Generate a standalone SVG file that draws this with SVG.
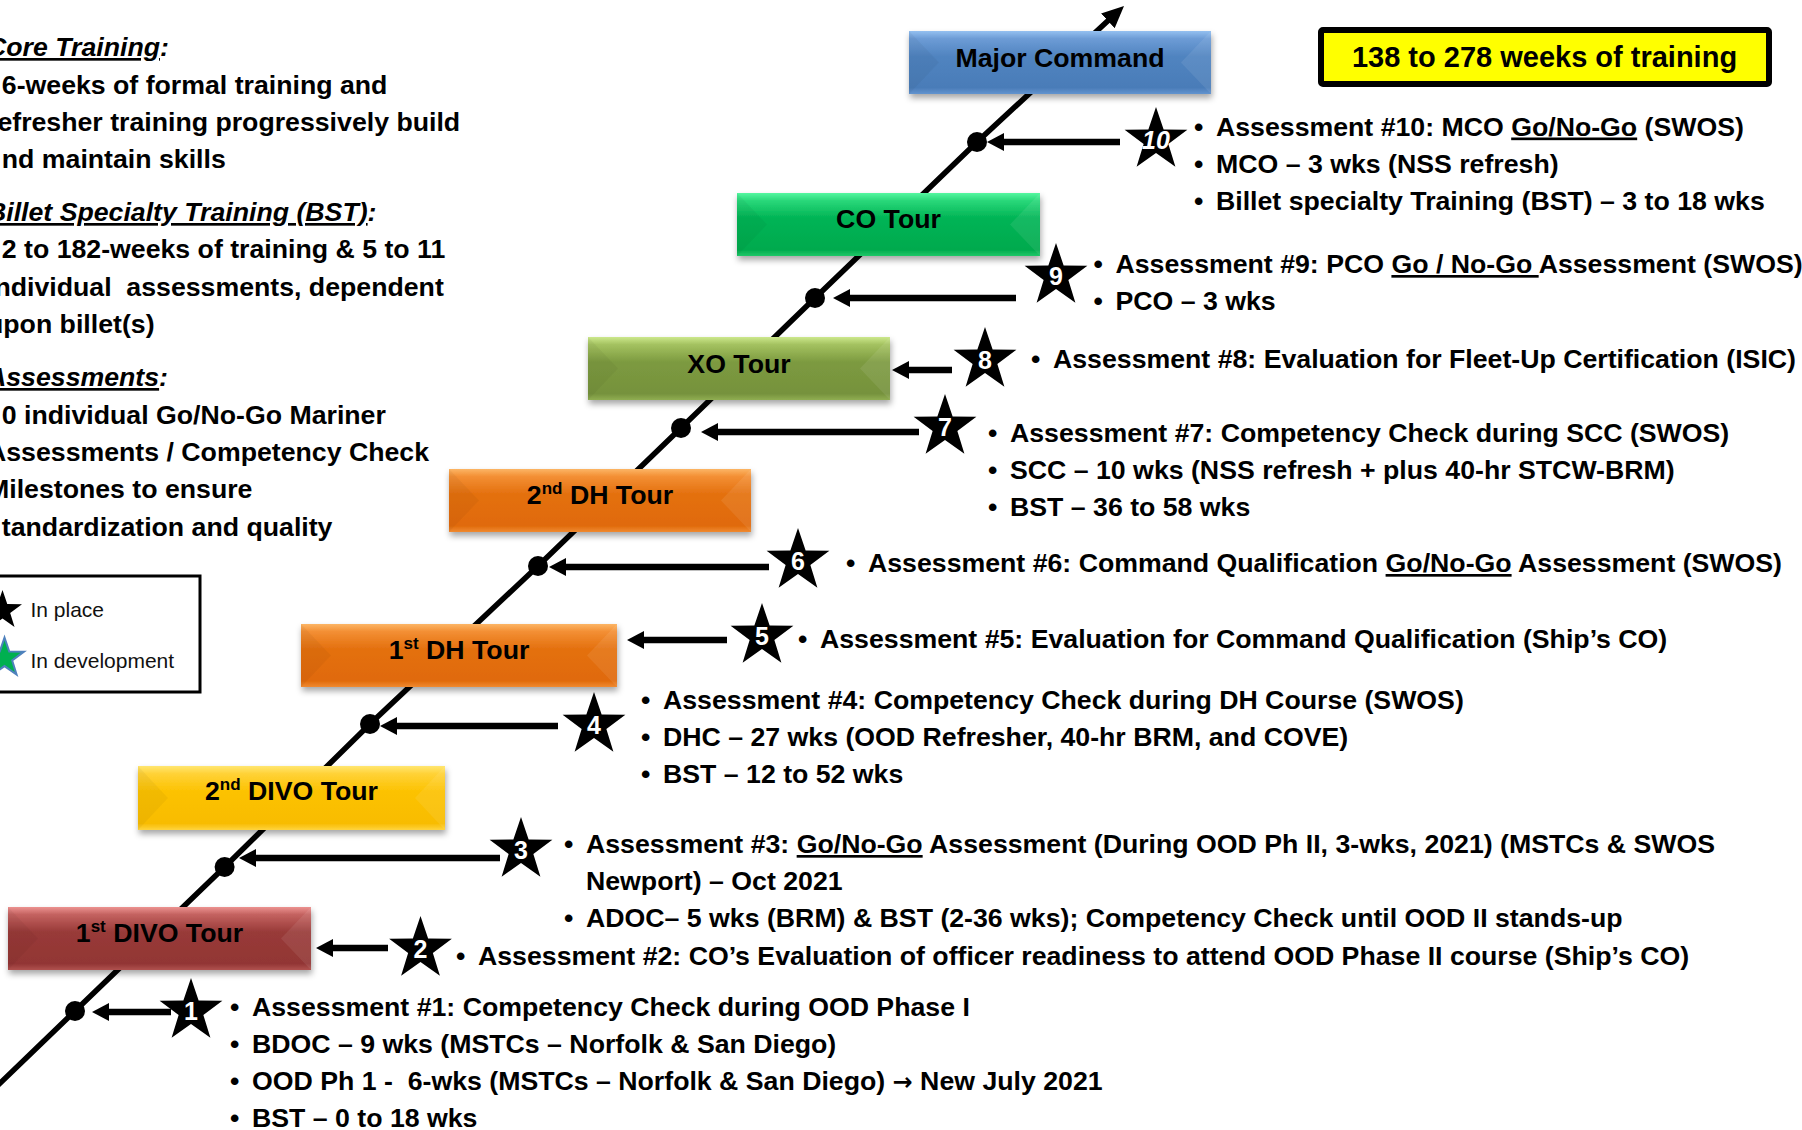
<svg xmlns="http://www.w3.org/2000/svg" width="1802" height="1130" viewBox="0 0 1802 1130">
  <style>
    .t { font-family: "Liberation Sans", Arial, Helvetica, sans-serif; font-weight: bold; font-size: 26.7px; fill: #000; }
    .it { font-style: italic; }
    .u { text-decoration: underline; }
    .pre { white-space: pre; }
    .arw { font-family: "DejaVu Sans", sans-serif; font-weight: bold; font-size: 24px; }
    .lg { font-family: "Liberation Sans", Arial, Helvetica, sans-serif; font-size: 21px; fill: #111; }
    .mid { text-anchor: middle; }
    .num { font-family: "Liberation Sans", Arial, Helvetica, sans-serif; font-weight: bold; font-size: 25px; fill: #fff; text-anchor: middle; }
    .sup { font-size: 17px; }
    .facetL { fill: #000; fill-opacity: 0.04; }
    .facetR { fill: #fff; fill-opacity: 0.08; }
    .conn { stroke: #000; stroke-width: 6.5; fill: none; marker-end: url(#head); }
    .spine { stroke: #000; stroke-width: 5.5; fill: none; }
    .dot { fill: #000; }
    .star { fill: #000; }
  </style>
  <defs>
    <marker id="head" markerUnits="userSpaceOnUse" markerWidth="17" markerHeight="18" refX="7" refY="9" orient="auto">
      <path d="M0,0 L17,9 L0,18 Z" fill="#000"/>
    </marker>
    <marker id="headBig" markerUnits="userSpaceOnUse" markerWidth="22" markerHeight="20" refX="10" refY="10" orient="auto">
      <path d="M0,0 L22,10 L0,20 Z" fill="#000"/>
    </marker>
    <path id="starShape" d="M0,-33 L7.64,-10.52 L31.38,-10.2 L12.36,4.02 L19.4,26.7 L0,13 L-19.4,26.7 L-12.36,4.02 L-31.38,-10.2 L-7.64,-10.52 Z"/>
    <path id="starSmall" d="M0,-20.5 L4.75,-6.53 L19.5,-6.34 L7.68,2.5 L12.05,16.58 L0,8.08 L-12.05,16.58 L-7.68,2.5 L-19.5,-6.34 L-4.75,-6.53 Z"/>
    <filter id="shadow" x="-10%" y="-20%" width="120%" height="160%">
      <feDropShadow dx="1" dy="4" stdDeviation="3" flood-color="#000" flood-opacity="0.35"/>
    </filter>
    <linearGradient id="gBlue" x1="0" y1="0" x2="0" y2="1">
      <stop offset="0" stop-color="#94c0f0"/>
      <stop offset="0.12" stop-color="#6d9cd6"/>
      <stop offset="0.4" stop-color="#5084c0"/>
      <stop offset="0.9" stop-color="#4a7cb8"/>
      <stop offset="1" stop-color="#6394cf"/>
    </linearGradient>
    <linearGradient id="gGreen" x1="0" y1="0" x2="0" y2="1">
      <stop offset="0" stop-color="#55f7a0"/>
      <stop offset="0.12" stop-color="#2ad87a"/>
      <stop offset="0.4" stop-color="#00b455"/>
      <stop offset="0.9" stop-color="#00aa4e"/>
      <stop offset="1" stop-color="#20c868"/>
    </linearGradient>
    <linearGradient id="gOlive" x1="0" y1="0" x2="0" y2="1">
      <stop offset="0" stop-color="#cce88c"/>
      <stop offset="0.12" stop-color="#a4c260"/>
      <stop offset="0.4" stop-color="#7c9a40"/>
      <stop offset="0.9" stop-color="#76923c"/>
      <stop offset="1" stop-color="#90ae52"/>
    </linearGradient>
    <linearGradient id="gOrange" x1="0" y1="0" x2="0" y2="1">
      <stop offset="0" stop-color="#fcb565"/>
      <stop offset="0.12" stop-color="#f38f34"/>
      <stop offset="0.4" stop-color="#e4700e"/>
      <stop offset="0.9" stop-color="#e06a0a"/>
      <stop offset="1" stop-color="#f08a30"/>
    </linearGradient>
    <linearGradient id="gYellow" x1="0" y1="0" x2="0" y2="1">
      <stop offset="0" stop-color="#ffe670"/>
      <stop offset="0.12" stop-color="#ffd238"/>
      <stop offset="0.4" stop-color="#fcc200"/>
      <stop offset="0.9" stop-color="#f8bc00"/>
      <stop offset="1" stop-color="#ffd440"/>
    </linearGradient>
    <linearGradient id="gRed" x1="0" y1="0" x2="0" y2="1">
      <stop offset="0" stop-color="#ec9290"/>
      <stop offset="0.12" stop-color="#c46260"/>
      <stop offset="0.4" stop-color="#983a38"/>
      <stop offset="0.9" stop-color="#923634"/>
      <stop offset="1" stop-color="#b05250"/>
    </linearGradient>
  </defs>

  <rect width="1802" height="1130" fill="#fff"/>

  <!-- left-hand summary text (runs off the left edge) -->
  <g id="summary" class="t">
    <text x="-13" y="56" class="it"><tspan class="u">Core Training</tspan>:</text>
    <text x="1.8" y="94">6-weeks of formal training and</text>
    <text x="-2.6" y="131">efresher training progressively build</text>
    <text x="1.8" y="168">nd maintain skills</text>
    <text x="-13" y="221" class="it"><tspan class="u">Billet Specialty Training (BST)</tspan>:</text>
    <text x="1.8" y="258">2 to 182-weeks of training &amp; 5 to 11</text>
    <text x="-5.6" y="296" class="pre" xml:space="preserve">ndividual  assessments, dependent</text>
    <text x="-13" y="333">upon billet(s)</text>
    <text x="-13" y="386" class="it"><tspan class="u">Assessments</tspan>:</text>
    <text x="1.8" y="424">0 individual Go/No-Go Mariner</text>
    <text x="-13" y="461">Assessments / Competency Check</text>
    <text x="-13" y="498">Milestones to ensure</text>
    <text x="1.8" y="536">tandardization and quality</text>
  </g>

  <!-- legend -->
  <g id="legend">
    <rect x="-10" y="576" width="210" height="116" fill="#fff" stroke="#000" stroke-width="3"/>
    <use href="#starSmall" x="2.5" y="610.5" fill="#000"/>
    <use href="#starSmall" x="4.5" y="658" fill="#00b050" stroke="#4f81bd" stroke-width="2"/>
    <text class="lg" x="30.5" y="617">In place</text>
    <text class="lg" x="30.5" y="668">In development</text>
  </g>

  <!-- total duration banner -->
  <g id="total">
    <rect x="1321" y="30" width="448" height="54" rx="2" fill="#ffff00" stroke="#000" stroke-width="6"/>
    <text class="t mid" x="1544.5" y="67" style="font-size:29px">138 to 278 weeks of training</text>
  </g>

  <!-- career path spine and milestone arrows -->
  <g id="connectors">
    <polyline class="spine" points="-20,1102.5 75,1011 224.6,867 370,724 538,566 681,428 815,298 977,142 1115.2,14.1" marker-end="url(#headBig)"/>
    <path class="conn" d="M1120,142 H997"/>
    <path class="conn" d="M1016,298 H843"/>
    <path class="conn" d="M952,370 H902"/>
    <path class="conn" d="M919,432 H711"/>
    <path class="conn" d="M769,567 H559"/>
    <path class="conn" d="M727,640 H637"/>
    <path class="conn" d="M558,726 H390"/>
    <path class="conn" d="M500,858 H249"/>
    <path class="conn" d="M388,948 H326"/>
    <path class="conn" d="M171,1012 H102"/>
  </g>

  <!-- tours -->
  <g id="tour-major-command">
    <rect x="909" y="31" width="302" height="63" fill="url(#gBlue)" filter="url(#shadow)"/>
    <path class="facetL" d="M909,31 L939,62.5 L909,94 Z"/>
    <path class="facetR" d="M1211,31 L1181,62.5 L1211,94 Z"/>
    <text class="t mid" x="1060" y="67">Major Command</text>
  </g>
  <g id="tour-co">
    <rect x="737" y="193" width="303" height="63" fill="url(#gGreen)" filter="url(#shadow)"/>
    <path class="facetL" d="M737,193 L767,224.5 L737,256 Z"/>
    <path class="facetR" d="M1040,193 L1010,224.5 L1040,256 Z"/>
    <text class="t mid" x="888.5" y="228">CO Tour</text>
  </g>
  <g id="tour-xo">
    <rect x="588" y="337" width="302" height="63" fill="url(#gOlive)" filter="url(#shadow)"/>
    <path class="facetL" d="M588,337 L618,368.5 L588,400 Z"/>
    <path class="facetR" d="M890,337 L860,368.5 L890,400 Z"/>
    <text class="t mid" x="739" y="373">XO Tour</text>
  </g>
  <g id="tour-dh2">
    <rect x="449" y="469" width="302" height="63" fill="url(#gOrange)" filter="url(#shadow)"/>
    <path class="facetL" d="M449,469 L479,500.5 L449,532 Z"/>
    <path class="facetR" d="M751,469 L721,500.5 L751,532 Z"/>
    <text class="t mid" x="600" y="504">2<tspan class="sup" dy="-10">nd</tspan><tspan dy="10"> DH Tour</tspan></text>
  </g>
  <g id="tour-dh1">
    <rect x="301" y="624" width="316" height="63" fill="url(#gOrange)" filter="url(#shadow)"/>
    <path class="facetL" d="M301,624 L331,655.5 L301,687 Z"/>
    <path class="facetR" d="M617,624 L587,655.5 L617,687 Z"/>
    <text class="t mid" x="459" y="658.5">1<tspan class="sup" dy="-10">st</tspan><tspan dy="10"> DH Tour</tspan></text>
  </g>
  <g id="tour-divo2">
    <rect x="138" y="766" width="307" height="64" fill="url(#gYellow)" filter="url(#shadow)"/>
    <path class="facetL" d="M138,766 L168,798 L138,830 Z"/>
    <path class="facetR" d="M445,766 L415,798 L445,830 Z"/>
    <text class="t mid" x="291.5" y="800">2<tspan class="sup" dy="-10">nd</tspan><tspan dy="10"> DIVO Tour</tspan></text>
  </g>
  <g id="tour-divo1">
    <rect x="8" y="907" width="303" height="63" fill="url(#gRed)" filter="url(#shadow)"/>
    <path class="facetL" d="M8,907 L38,938.5 L8,970 Z"/>
    <path class="facetR" d="M311,907 L281,938.5 L311,970 Z"/>
    <text class="t mid" x="159.5" y="942">1<tspan class="sup" dy="-10">st</tspan><tspan dy="10"> DIVO Tour</tspan></text>
  </g>

  <!-- milestone points on the spine -->
  <g id="milestones">
    <circle class="dot" cx="75" cy="1011" r="10"/>
    <circle class="dot" cx="224.6" cy="867" r="10"/>
    <circle class="dot" cx="370" cy="724" r="10"/>
    <circle class="dot" cx="538" cy="566" r="10"/>
    <circle class="dot" cx="681" cy="428" r="10"/>
    <circle class="dot" cx="815" cy="298" r="10"/>
    <circle class="dot" cx="977" cy="142" r="10"/>
  </g>

  <!-- assessment stars -->
  <g id="assessment-10"><use href="#starShape" class="star" x="1156" y="140"/><text class="num it" x="1156" y="149">10</text></g>
  <g id="assessment-9"><use href="#starShape" class="star" x="1056" y="276"/><text class="num" x="1056" y="285">9</text></g>
  <g id="assessment-8"><use href="#starShape" class="star" x="985" y="360"/><text class="num" x="985" y="369">8</text></g>
  <g id="assessment-7"><use href="#starShape" class="star" x="945" y="427"/><text class="num" x="945" y="436">7</text></g>
  <g id="assessment-6"><use href="#starShape" class="star" x="798" y="561"/><text class="num" x="798" y="570">6</text></g>
  <g id="assessment-5"><use href="#starShape" class="star" x="762" y="636"/><text class="num" x="762" y="645">5</text></g>
  <g id="assessment-4"><use href="#starShape" class="star" x="594" y="725"/><text class="num" x="594" y="734">4</text></g>
  <g id="assessment-3"><use href="#starShape" class="star" x="521" y="850"/><text class="num" x="521" y="859">3</text></g>
  <g id="assessment-2"><use href="#starShape" class="star" x="420.5" y="949"/><text class="num" x="420.5" y="958">2</text></g>
  <g id="assessment-1"><use href="#starShape" class="star" x="191" y="1011"/><text class="num" x="191" y="1020">1</text></g>

  <!-- assessment details -->
  <g id="details" class="t">
    <text y="135.5"><tspan x="1194">•</tspan><tspan x="1216">Assessment #10: MCO </tspan><tspan class="u">Go/No-Go</tspan> (SWOS)</text>
    <text y="172.5"><tspan x="1194">•</tspan><tspan x="1216">MCO – 3 wks (NSS refresh)</tspan></text>
    <text y="209.5"><tspan x="1194">•</tspan><tspan x="1216">Billet specialty Training (BST) – 3 to 18 wks</tspan></text>

    <text y="273"><tspan x="1093.5">•</tspan><tspan x="1115.5">Assessment #9: PCO </tspan><tspan class="u pre" xml:space="preserve">Go / No-Go </tspan>Assessment (SWOS)</text>
    <text y="310"><tspan x="1093.5">•</tspan><tspan x="1115.5">PCO – 3 wks</tspan></text>

    <text y="368"><tspan x="1031">•</tspan><tspan x="1053">Assessment #8: Evaluation for Fleet-Up Certification (ISIC)</tspan></text>

    <text y="442"><tspan x="988">•</tspan><tspan x="1010">Assessment #7: Competency Check during SCC (SWOS)</tspan></text>
    <text y="479"><tspan x="988">•</tspan><tspan x="1010">SCC – 10 wks (NSS refresh + plus 40-hr STCW-BRM)</tspan></text>
    <text y="516"><tspan x="988">•</tspan><tspan x="1010">BST – 36 to 58 wks</tspan></text>

    <text y="572"><tspan x="846">•</tspan><tspan x="868">Assessment #6: Command Qualification </tspan><tspan class="u">Go/No-Go</tspan> Assessment (SWOS)</text>

    <text y="648"><tspan x="798">•</tspan><tspan x="820">Assessment #5: Evaluation for Command Qualification (Ship’s CO)</tspan></text>

    <text y="709"><tspan x="641">•</tspan><tspan x="663">Assessment #4: Competency Check during DH Course (SWOS)</tspan></text>
    <text y="746"><tspan x="641">•</tspan><tspan x="663">DHC – 27 wks (OOD Refresher, 40-hr BRM, and COVE)</tspan></text>
    <text y="783"><tspan x="641">•</tspan><tspan x="663">BST – 12 to 52 wks</tspan></text>

    <text y="853"><tspan x="564">•</tspan><tspan x="586">Assessment #3: </tspan><tspan class="u">Go/No-Go</tspan> Assessment (During OOD Ph II, 3-wks, 2021) (MSTCs &amp; SWOS</text>
    <text y="890" x="586">Newport) – Oct 2021</text>
    <text y="927"><tspan x="564">•</tspan><tspan x="586">ADOC– 5 wks (BRM) &amp; BST (2-36 wks); Competency Check until OOD II stands-up</tspan></text>

    <text y="965"><tspan x="456">•</tspan><tspan x="478">Assessment #2: CO’s Evaluation of officer readiness to attend OOD Phase II course (Ship’s CO)</tspan></text>

    <text y="1016"><tspan x="230">•</tspan><tspan x="252">Assessment #1: Competency Check during OOD Phase I</tspan></text>
    <text y="1053"><tspan x="230">•</tspan><tspan x="252">BDOC – 9 wks (MSTCs – Norfolk &amp; San Diego)</tspan></text>
    <text y="1090" class="pre" xml:space="preserve"><tspan x="230">•</tspan><tspan x="252">OOD Ph 1 -  6-wks (MSTCs – Norfolk &amp; San Diego) </tspan><tspan class="arw">→</tspan><tspan> New July 2021</tspan></text>
    <text y="1127"><tspan x="230">•</tspan><tspan x="252">BST – 0 to 18 wks</tspan></text>
  </g>
</svg>
